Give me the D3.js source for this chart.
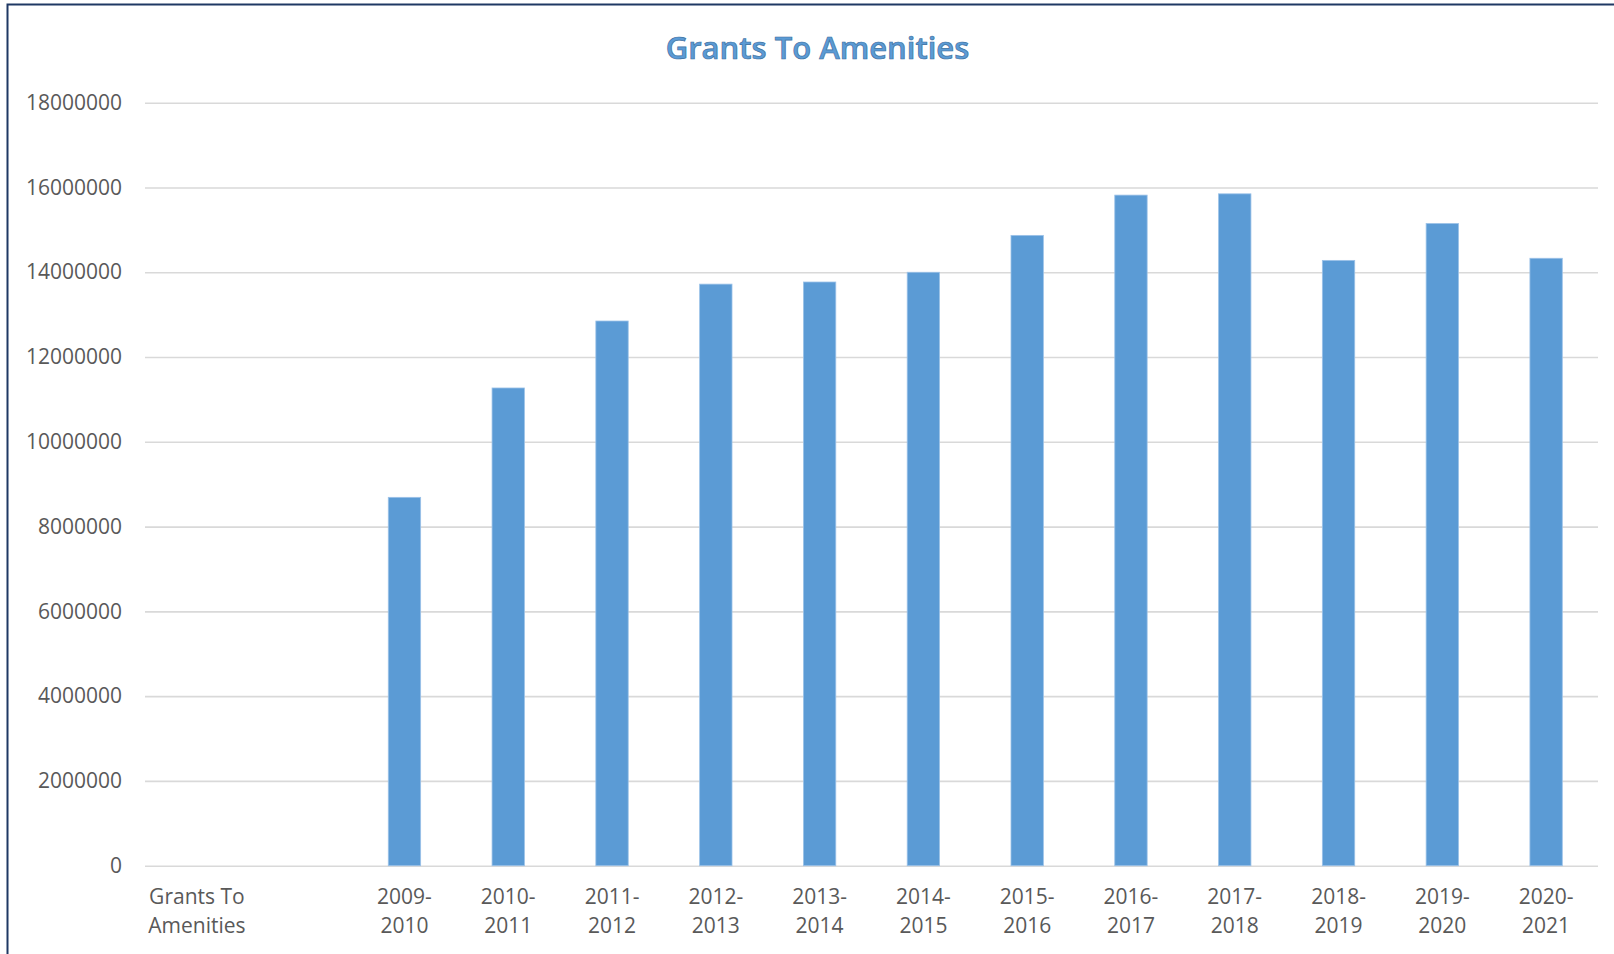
<!DOCTYPE html>
<html>
<head>
<meta charset="utf-8">
<script src="https://cdn.jsdelivr.net/npm/d3@7"></script>
<style>
  body { margin: 0; background: #fff; }
  text { font-family: "Open Sans", "Noto Sans", sans-serif; }
</style>
</head>
<body>
<script>
// chart values
var categories = ["Grants To Amenities", "", "2009-2010", "2010-2011", "2011-2012", "2012-2013",
                  "2013-2014", "2014-2015", "2015-2016", "2016-2017", "2017-2018",
                  "2018-2019", "2019-2020", "2020-2021"];
var grants = [null, null, 8690000, 11270000, 12850000, 13720000, 13770000, 14000000,
              14870000, 15820000, 15850000, 14280000, 15150000, 14330000];
var yTicks = [0, 2000000, 4000000, 6000000, 8000000, 10000000, 12000000, 14000000, 16000000, 18000000];
var title = "Grants To Amenities";

var width = 1614, height = 954;
var plotLeft = 145, plotRight = 1598, plotTop = 102.7, plotBottom = 865.7;

var svg = d3.select("body").append("svg")
    .attr("width", width)
    .attr("height", height);

svg.append("rect")
    .attr("x", 7.5).attr("y", 4.5)
    .attr("width", width + 20).attr("height", height + 20)
    .attr("fill", "#fff")
    .attr("stroke", "#1f3864")
    .attr("stroke-width", 2);

var x = d3.scaleBand()
    .domain(categories)
    .range([plotLeft, plotRight])
    .paddingInner(0.688)
    .paddingOuter(0.344);

var y = d3.scaleLinear()
    .domain([0, 18000000])
    .range([plotBottom, plotTop]);

// gridlines
svg.append("g")
    .attr("transform", "translate(" + plotLeft + ",0)")
    .call(d3.axisLeft(y).tickValues(yTicks).tickSize(-(plotRight - plotLeft)).tickFormat(""))
    .call(function (g) { g.select(".domain").remove(); })
    .selectAll("line")
      .attr("stroke", "#d9d9d9")
      .attr("stroke-width", 1.6);

// y labels
svg.append("g")
    .attr("transform", "translate(122,0)")
    .call(d3.axisLeft(y).tickValues(yTicks).tickSize(0).tickPadding(0).tickFormat(d3.format("d")))
    .call(function (g) { g.select(".domain").remove(); })
    .selectAll("text")
      .attr("fill", "#595959")
      .style("font-size", "21px")
      .style("font-family", "'Open Sans', sans-serif");

// bars
svg.append("g")
  .selectAll("rect")
  .data(categories.map(function (c, i) { return {cat: c, value: grants[i]}; })
          .filter(function (d) { return d.value !== null; }))
  .enter().append("rect")
    .attr("x", function (d) { return x(d.cat); })
    .attr("width", x.bandwidth())
    .attr("y", function (d) { return y(d.value); })
    .attr("height", function (d) { return y(0) - y(d.value); })
    .attr("fill", "#5b9bd5")
    .attr("stroke", "#9cc2e8")
    .attr("stroke-width", 0.8);

// x labels, two lines each
var xl = svg.append("g")
  .selectAll("text")
  .data(categories)
  .enter().append("text")
    .attr("text-anchor", "middle")
    .attr("fill", "#595959")
    .style("font-size", "21px")
    .attr("y", 904);

xl.each(function (d) {
    var lines;
    if (d.indexOf("-") > 0) {
        lines = [d.slice(0, d.indexOf("-") + 1), d.slice(d.indexOf("-") + 1)];
    } else if (d === "Grants To Amenities") {
        lines = ["Grants To", "Amenities"];
    } else {
        lines = [];
    }
    var cx = x(d) + x.bandwidth() / 2;
    d3.select(this).selectAll("tspan")
        .data(lines)
        .enter().append("tspan")
          .attr("x", cx)
          .attr("dy", function (l, i) { return i === 0 ? 0 : 29; })
          .text(function (l) { return l; });
});

// title
svg.append("text")
    .attr("x", 817.5)
    .attr("y", 58.5)
    .attr("text-anchor", "middle")
    .attr("fill", "#5b9bd5")
    .attr("stroke", "#3d6f9f")
    .attr("stroke-width", 0.7)
    .style("font-size", "31px")
    .style("font-weight", 600)
    .text(title);
</script>
</body>
</html>
